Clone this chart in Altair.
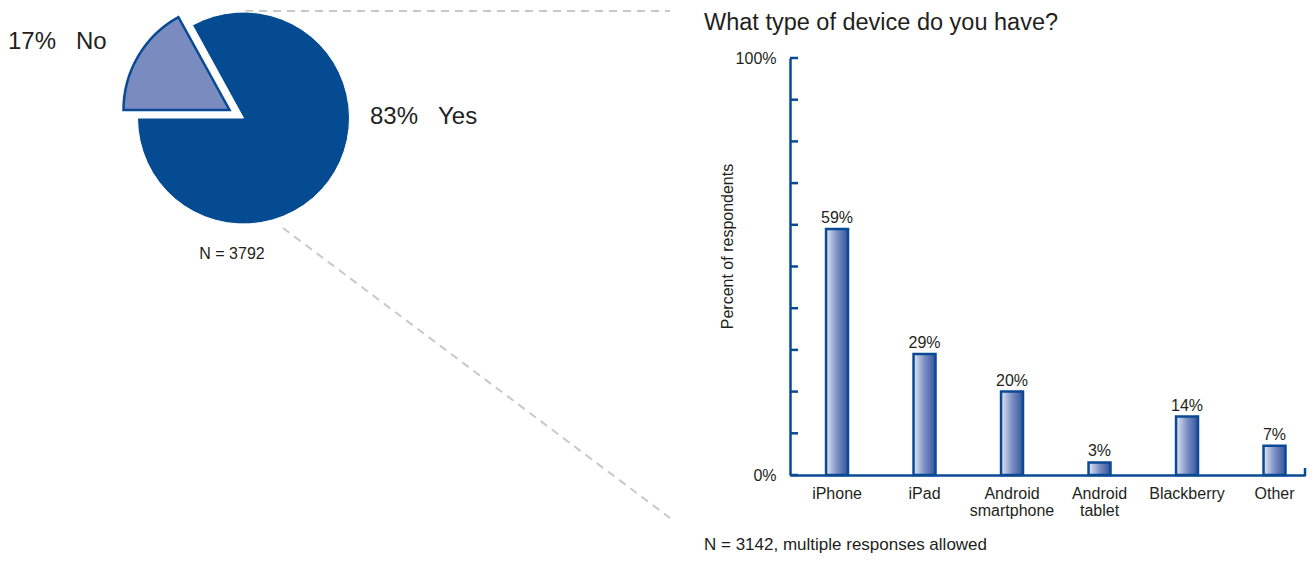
import math
import altair as alt
import pandas as pd

# ---------------- data ----------------
pie_answers = ["Yes", "No"]
pie_values = [83, 17]
pie_note = ["N = 3792"]

devices = ["iPhone", "iPad", "Android smartphone", "Android tablet", "Blackberry", "Other"]
device_values = [59, 29, 20, 3, 14, 7]
y_ticks = [0, 10, 20, 30, 40, 50, 60, 70, 80, 90, 100]
bar_title = ["What type of device do you have?"]
bar_note = ["N = 3142, multiple responses allowed"]

# ---------------- styles ----------------
BLUE = "#0a4a94"
PIE_YES = "#044b92"
PIE_NO = "#7a8bbf"
TEXT = "#231f20"
GREY = "#c8c8c8"
FONT = "Liberation Sans"
SMALL = 16
OY = 58  # page y of the plot origin (shared by both panels)

pie_df = pd.DataFrame({"answer": pie_answers, "value": pie_values, "order": list(range(len(pie_answers)))})
pie_df["label"] = pie_df["value"].astype(str) + "%"

start_angle = -0.5027
theta_scale = alt.Scale(domain=[0, 100], range=[start_angle, 2 * math.pi + start_angle])

base_pie = (
    alt.Chart(pie_df)
    .transform_window(cum="sum(value)", sort=[alt.SortField("order")])
    .transform_calculate(start="datum.cum - datum.value")
)

yes_arc = (
    base_pie.transform_filter("datum.answer == 'Yes'")
    .mark_arc(radius=106, fill=PIE_YES, stroke="white", strokeWidth=1)
    .encode(
        theta=alt.Theta("start:Q", scale=theta_scale, stack=False),
        theta2="cum:Q",
        x=alt.value(235.5),
        y=alt.value(118 - OY),
    )
)
no_arc = (
    base_pie.transform_filter("datum.answer == 'No'")
    .mark_arc(radius=106, fill=PIE_NO, stroke=BLUE, strokeWidth=2.5, strokeJoin="miter")
    .encode(
        theta=alt.Theta("start:Q", scale=theta_scale, stack=False),
        theta2="cum:Q",
        x=alt.value(221.5),
        y=alt.value(110 - OY),
    )
)

def pie_text(answer, field, x, y):
    return (
        alt.Chart(pie_df)
        .transform_filter(f"datum.answer == '{answer}'")
        .mark_text(align="left", baseline="middle", fontSize=24, font=FONT, color=TEXT)
        .encode(text=f"{field}:N", x=alt.value(x), y=alt.value(y - OY))
    )

yes_pct = pie_text("Yes", "label", 362, 117)
yes_ans = pie_text("Yes", "answer", 430, 117)
no_pct = pie_text("No", "label", 0, 42)
no_ans = pie_text("No", "answer", 68, 42)

note_pie = (
    alt.Chart(pd.DataFrame({"t": pie_note}))
    .mark_text(align="center", baseline="middle", fontSize=SMALL, font=FONT, color=TEXT)
    .encode(text="t:N", x=alt.value(224), y=alt.value(254 - OY))
)

one = pd.DataFrame({"k": [0]})
line_top = (
    alt.Chart(one)
    .mark_rule(color=GREY, strokeWidth=2, strokeDash=[8, 6])
    .encode(x=alt.value(237), x2=alt.value(662), y=alt.value(11 - OY), y2=alt.value(11 - OY))
)
line_diag = (
    alt.Chart(one)
    .mark_rule(color=GREY, strokeWidth=2, strokeDash=[8, 6])
    .encode(x=alt.value(275), x2=alt.value(662), y=alt.value(228 - OY), y2=alt.value(518 - OY))
)

left = alt.layer(line_top, line_diag, yes_arc, no_arc, yes_pct, yes_ans, no_pct, no_ans, note_pie).properties(
    width=680, height=417
)

# ---------------- bar chart ----------------
bars_df = pd.DataFrame({"device": devices, "value": device_values})
bars_df["label"] = bars_df["value"].astype(str) + "%"

gradient = alt.LinearGradient(
    gradient="linear",
    stops=[
        alt.GradientStop(color="#e3e8f3", offset=0),
        alt.GradientStop(color="#7d90c4", offset=0.5),
        alt.GradientStop(color="#34539c", offset=1),
    ],
    x1=0, x2=1, y1=0, y2=0,
)

x_enc = alt.X(
    "device:N",
    sort=devices,
    scale=alt.Scale(paddingInner=0.749, paddingOuter=0.3175, align=0.649),
    axis=alt.Axis(
        title=None,
        labelAngle=0,
        ticks=False,
        domainColor=BLUE,
        domainWidth=2.5,
        labelFontSize=SMALL,
        labelFont=FONT,
        labelColor=TEXT,
        labelPadding=10,
        labelLineHeight=17,
        labelExpr="indexof(datum.label, 'Android') == 0 ? split(datum.label, ' ') : datum.label",
    ),
)
y_scale = alt.Scale(domain=[0, 100])
y_enc = alt.Y(
    "value:Q",
    scale=y_scale,
    axis=alt.Axis(
        values=[0, 100],
        labelExpr="datum.value + '%'",
        ticks=False,
        grid=False,
        domainColor=BLUE,
        domainWidth=2.5,
        labelFontSize=SMALL,
        labelFont=FONT,
        labelColor=TEXT,
        labelPadding=14,
        title="Percent of respondents",
        titleFontSize=SMALL,
        titleFont=FONT,
        titleFontWeight="normal",
        titleColor=TEXT,
        titlePadding=0,
        titleY=188,
    ),
)

bars = (
    alt.Chart(bars_df)
    .mark_bar(fill=gradient, stroke=BLUE, strokeWidth=2.5)
    .encode(x=x_enc, y=y_enc)
)
value_labels = (
    alt.Chart(bars_df)
    .mark_text(baseline="alphabetic", dy=-6, fontSize=SMALL, font=FONT, color=TEXT)
    .encode(x=alt.X("device:N", sort=devices), y=alt.Y("value:Q"), text="label:N")
)
tick_marks = (
    alt.Chart(pd.DataFrame({"value": y_ticks}))
    .mark_rule(color=BLUE, strokeWidth=2.5)
    .encode(y=alt.Y("value:Q"), x=alt.value(0), x2=alt.value(8))
)
end_tick = (
    alt.Chart(one)
    .mark_rule(color=BLUE, strokeWidth=2.5)
    .encode(x=alt.value(515), y=alt.value(410), y2=alt.value(418))
)
title_text = (
    alt.Chart(pd.DataFrame({"t": bar_title}))
    .mark_text(align="left", baseline="alphabetic", fontSize=23.5, font=FONT, color=TEXT)
    .encode(text="t:N", x=alt.value(-86), y=alt.value(-28))
)
foot_text = (
    alt.Chart(pd.DataFrame({"t": bar_note}))
    .mark_text(align="left", baseline="middle", fontSize=17, font=FONT, color=TEXT)
    .encode(text="t:N", x=alt.value(-86), y=alt.value(487))
)

right = alt.layer(bars, tick_marks, end_tick, value_labels, title_text, foot_text).properties(
    width=515, height=417
)

chart = (
    alt.hconcat(left, right, spacing=16)
    .properties(padding={"top": 2, "left": 0, "right": 0, "bottom": 0}, background="white")
    .configure(font=FONT)
    .configure_view(stroke="transparent", strokeWidth=0)
)

chart.save("out.html", embed_options={"renderer": "svg", "actions": False})
